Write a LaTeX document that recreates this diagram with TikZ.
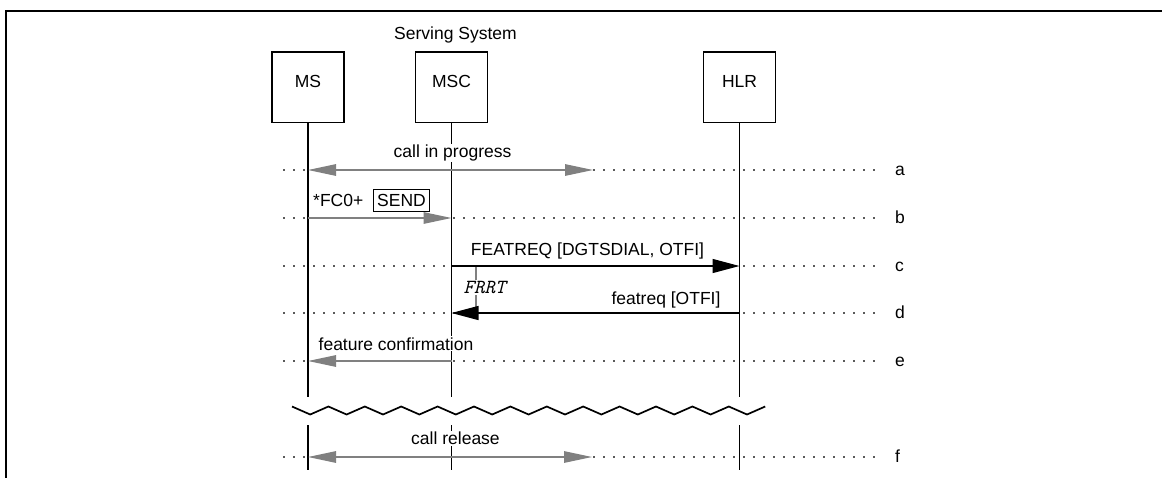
\documentclass[tikz,border=0pt]{standalone}
\usepackage{fontspec}
\setmainfont{Liberation Sans}
\usetikzlibrary{arrows.meta}
\definecolor{msggray}{RGB}{128,128,128}
\definecolor{dotgray}{RGB}{90,90,90}
\begin{document}
\begin{tikzpicture}[x=1pt,y=-1pt,
  every node/.style={font=\fontsize{17.5}{21}\selectfont},
  entity/.style={draw,line width=1.7pt,minimum width=72pt,inner xsep=0pt,inner ysep=0pt,text height=35pt,text depth=35.5pt,anchor=base},
  life/.style={line width=1.7pt},
  dotline/.style={dotgray,line width=1.5pt,dash pattern=on 1.5pt off 8.5pt},
  garrow/.style={msggray,line width=1.3pt,-{Triangle[length=28pt,width=11.5pt]}},
  gdarrow/.style={msggray,line width=1.3pt,{Triangle[length=28pt,width=11.5pt]}-{Triangle[length=28pt,width=11.5pt]}},
  barrow/.style={black,line width=1.3pt,-{Triangle[length=27pt,width=14pt]}},
  msg/.style={fill=white,inner sep=1pt,anchor=base},
  rowlbl/.style={inner sep=0pt,anchor=base west},
  sendbox/.style={draw,line width=1.3pt,inner xsep=4pt,inner ysep=5pt,text height=12.5pt,text depth=0pt,anchor=base},
  timerlbl/.style={fill=white,inner sep=1pt,anchor=base,font=\fontsize{20}{22}\selectfont\ttfamily\itshape},
]
\useasboundingbox (0,0) rectangle (1162,477);

% frame
\draw[line width=2.3pt] (6,478) -- (6,11) -- (1163,11);

% title
\node[inner sep=0pt,anchor=base] (serving) at (455.5,39.3) {Serving System};

% entities
\node[entity] (MS) at (308,87) {MS};
\node[entity] (MSC) at (451.5,87) {MSC};
\node[entity] (HLR) at (739.5,87) {HLR};

% rows
\coordinate (ra) at (0,170);
\coordinate (rb) at (0,218);
\coordinate (rc) at (0,266);
\coordinate (rd) at (0,313);
\coordinate (re) at (0,361);
\coordinate (rf) at (0,457);
\coordinate (brkA) at (0,397);
\coordinate (brkB) at (0,425);
\coordinate (bot) at (0,470);

% dotted guide lines
\foreach \y in {170,218,266,313,361,457}
  \draw[dotline] (283,\y) -- (876,\y);

% lifelines
\foreach \e in {MS,MSC,HLR}{
  \draw[life] (\e.south) -- (\e.south |- brkA);
  \draw[life] (\e.south |- brkB) -- (\e.south |- bot);
}

% break zigzag
\draw[line width=1.7pt,line join=miter] (292,406.5)
  \foreach \i in {0,...,12} { -- ({292+36.4*\i+18.2},414.5) -- ({292+36.4*(\i+1)},406.5) };

% FRRT timer
\coordinate (frT) at (476,266);
\coordinate (frB) at (476,313);
\draw[msggray,line width=1.5pt] (frT) -- (frB);

% messages
\coordinate (aEnd) at (593,170);
\coordinate (fEnd) at (592,457);
\draw[gdarrow] (MS.south |- ra) -- (aEnd);
\draw[garrow] (MS.south |- rb) -- (MSC.south |- rb);
\draw[barrow] (MSC.south |- rc) -- (HLR.south |- rc);
\draw[barrow] (HLR.south |- rd) -- (MSC.south |- rd);
\draw[garrow] (MSC.south |- re) -- (MS.south |- re);
\draw[gdarrow] (MS.south |- rf) -- (fEnd);

% labels
\node[msg] (lcall) at (452.5,157.5) {call in progress};
\node[inner sep=0pt,anchor=base west] (lfc) at (313,206.7) {*FC0+};
\node[sendbox] (lsend) at (401.5,206.7) {SEND};
\node[msg] (lfeat) at (587.5,255.5) {FEATREQ [DGTSDIAL, OTFI]};
\node[timerlbl] (frrt) at (484.5,293.3) {FRRT};
\node[msg] (lfeatr) at (666,304.5) {featreq [OTFI]};
\node[msg] (lconf) at (396,350) {feature confirmation};
\node[msg] (lrel) at (455.5,444.5) {call release};

% row letters
\node[rowlbl] (la) at (895,175.3) {a};
\node[rowlbl] (lb) at (895,223.3) {b};
\node[rowlbl] (lc) at (895,271.3) {c};
\node[rowlbl] (ld) at (895,318.3) {d};
\node[rowlbl] (le) at (895,366.3) {e};
\node[rowlbl] (lf) at (895,462.3) {f};
\end{tikzpicture}
\end{document}
